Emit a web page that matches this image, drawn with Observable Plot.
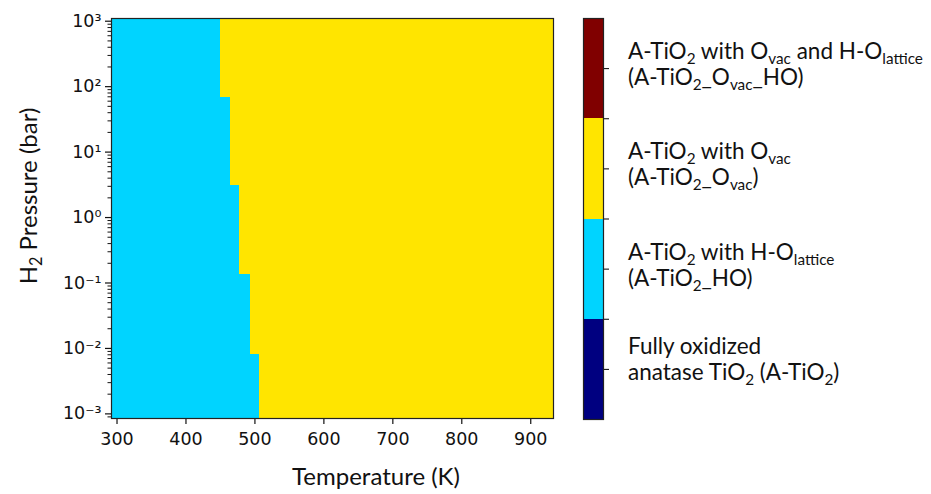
<!DOCTYPE html>
<html><head><meta charset="utf-8">
<script src="https://cdn.jsdelivr.net/npm/d3@7"></script>
<script src="https://cdn.jsdelivr.net/npm/@observablehq/plot@0.6"></script>
<style>
html,body{margin:0;padding:0;background:#fff;}
#chart{position:relative;width:931px;height:494px;}
#chart svg{position:absolute;left:0;top:0;}
#chart g[aria-label="x-axis tick label"] text,
#chart g[aria-label="y-axis tick label"] text{font-size:17.5px;font-family:"DejaVu Sans",sans-serif;fill:#111;}
</style></head><body><div id="chart"></div>
<script>
// ---- data ----
const tempRange = [292, 933];
const pressureRange = [0.00085, 1100];
const pLow = [0.00085, 0.0081, 0.135, 3.1, 69];
const pHigh = [0.0081, 0.135, 3.1, 69, 1100];
const tBoundary = [507, 493, 478, 464, 450];
const tempTicks = [300, 400, 500, 600, 700, 800, 900];
const pressureTicks = [1e-3, 1e-2, 1e-1, 1, 10, 100, 1000];
const pressureTickLabels = ["10⁻³", "10⁻²", "10⁻¹", "10⁰", "10¹", "10²", "10³"];
const phaseValue = [0, 1, 2, 3];
const phaseColors = ["#000080", "#00d4ff", "#ffe500", "#800000"];
const phaseLine1 = ["Fully oxidized", "A-TiO_{2} with H-O_{lattice}", "A-TiO_{2} with O_{vac}", "A-TiO_{2} with O_{vac} and H-O_{lattice}"];
const phaseLine2 = ["anatase TiO_{2} (A-TiO_{2})", "(A-TiO_{2}_HO)", "(A-TiO_{2}_O_{vac})", "(A-TiO_{2}_O_{vac}_HO)"];
const colorbarTicks = [0.5, 1, 1.5, 2, 2.5, 3, 3.5];
const xLabel = "Temperature (K)";
const yLabel = "H_{2} Pressure (bar)";

// ---- build ----
const rows = pLow.map((p, i) => ({p1: p, p2: pHigh[i], t: tBoundary[i]}));
const minorTicks = d3.scaleLog().domain(pressureRange).ticks().filter(d => !pressureTicks.some(m => Math.abs(m - d) / m < 1e-9));
const labelFont = "Lato, 'Open Sans', sans-serif";

function rich(textSel, str, fs, subScale = 0.68) {
  const parts = str.split(/(_\{[^}]*\})/).filter(s => s.length);
  let shifted = false;
  const dyv = 0.22 * fs;
  for (const p of parts) {
    const m = p.match(/^_\{([^}]*)\}$/);
    const t = textSel.append("tspan");
    if (m) { t.text(m[1]).attr("font-size", subScale * fs).attr("dy", shifted ? 0 : dyv); shifted = true; }
    else { t.text(p).attr("dy", shifted ? -dyv : 0); shifted = false; }
  }
}

const main = Plot.plot({
  width: 931, height: 494,
  marginLeft: 111, marginRight: 378, marginTop: 18, marginBottom: 76,
  style: {fontFamily: "'DejaVu Sans', sans-serif", fontSize: "17px", color: "#111", background: "transparent"},
  x: {domain: tempRange},
  y: {type: "log", domain: pressureRange},
  marks: [
    Plot.rect(rows, {x1: () => tempRange[0], x2: "t", y1: "p1", y2: "p2", fill: phaseColors[1], inset: 0, shapeRendering: "crispEdges"}),
    Plot.rect(rows, {x1: "t", x2: () => tempRange[1], y1: "p1", y2: "p2", fill: phaseColors[2], inset: 0, shapeRendering: "crispEdges"}),
    Plot.axisX({ticks: tempTicks, tickSize: 6, tickPadding: 8, label: null, strokeWidth: 1.2}),
    Plot.axisY({ticks: pressureTicks, tickFormat: d => pressureTickLabels[pressureTicks.findIndex(m => Math.abs(m - d) / m < 1e-9)], tickSize: 6, tickPadding: 4, label: null, strokeWidth: 1.2}),
    Plot.axisY({ticks: minorTicks, tickFormat: () => "", tickSize: 3.5, label: null, strokeWidth: 1}),
    Plot.frame({stroke: "#222", strokeWidth: 1.2})
  ]
});

const bands = phaseValue.map((v, i) => ({v0: v, v1: v + 1, color: phaseColors[i]}));
const cbar = Plot.plot({
  width: 931, height: 494,
  marginLeft: 583, marginRight: 328, marginTop: 18, marginBottom: 75,
  style: {background: "transparent"},
  x: {domain: [0, 1], axis: null},
  y: {domain: [0, 4], axis: null},
  color: {type: "identity"},
  marks: [
    Plot.rect(bands, {x1: () => 0, x2: () => 1, y1: "v0", y2: "v1", fill: "color", inset: 0, shapeRendering: "crispEdges"}),
    Plot.axisY({anchor: "right", ticks: colorbarTicks, tickSize: 5, tickFormat: () => "", label: null, strokeWidth: 1}),
    Plot.frame({stroke: "#222", strokeWidth: 1.2})
  ]
});

const chart = document.getElementById("chart");
chart.appendChild(main);
chart.appendChild(cbar);

// axis labels
const ms = d3.select(main);
const ys = main.scale("y");
const fsAxis = 24;
const xl = ms.append("text").attr("x", 376).attr("y", 485)
  .attr("text-anchor", "middle").attr("font-family", labelFont).attr("font-size", fsAxis).attr("fill", "#111")
  .style("white-space", "pre");
rich(xl, xLabel, fsAxis);
const yl = ms.append("text").attr("transform", `translate(37,${(ys.apply(pressureRange[0]) + ys.apply(pressureRange[1])) / 2 - 22}) rotate(-90)`)
  .attr("text-anchor", "middle").attr("font-family", labelFont).attr("font-size", fsAxis).attr("fill", "#111")
  .style("white-space", "pre");
rich(yl, yLabel, fsAxis, 0.68);

// legend labels
const cs = d3.select(cbar);
const cy = cbar.scale("y");
const fsLeg = 22.5;
const off1 = [-15, -9, -9, -9], off2 = [11, 17, 17, 17];
phaseValue.forEach((v, i) => {
  const c = cy.apply(v + 0.5);
  const t1 = cs.append("text").attr("x", 628).attr("y", c + off1[i]).attr("text-anchor", "start").attr("font-family", labelFont).attr("font-size", fsLeg).attr("fill", "#111").style("white-space", "pre");
  rich(t1, phaseLine1[i], fsLeg, 0.68);
  const t2 = cs.append("text").attr("x", 628).attr("y", c + off2[i]).attr("text-anchor", "start").attr("font-family", labelFont).attr("font-size", fsLeg).attr("fill", "#111").style("white-space", "pre");
  rich(t2, phaseLine2[i], fsLeg, 0.68);
});
</script></body></html>
